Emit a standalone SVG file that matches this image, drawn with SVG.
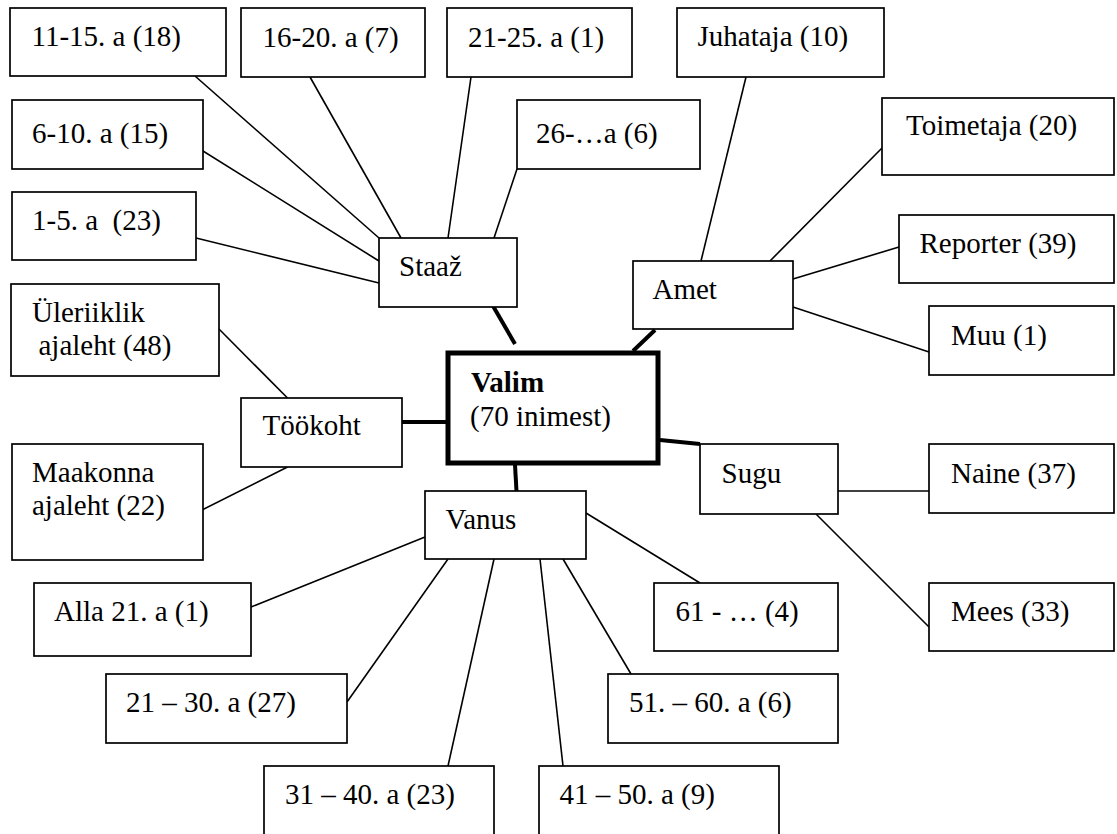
<svg xmlns="http://www.w3.org/2000/svg" width="1117" height="834" viewBox="0 0 1117 834">
<style>
.box{fill:#fff;stroke:#000;stroke-width:1.7}
.c{stroke:#000;stroke-width:1.6;fill:none}
.ck{stroke:#000;stroke-width:4;fill:none}
.t{font-family:"Liberation Serif","Times New Roman",serif;font-size:29px;fill:#000;white-space:pre}
</style>
<rect width="1117" height="834" fill="#fff"/>
<g id="connectors">
<line class="c" x1="195" y1="76" x2="379" y2="238"/>
<line class="c" x1="195" y1="146" x2="379" y2="261"/>
<line class="c" x1="196" y1="238" x2="379" y2="283"/>
<line class="c" x1="310" y1="77" x2="401" y2="238"/>
<line class="c" x1="471" y1="77" x2="448" y2="238"/>
<line class="c" x1="517" y1="169" x2="494" y2="238"/>
<line class="c" x1="746" y1="77" x2="701" y2="261"/>
<line class="c" x1="882" y1="148" x2="770" y2="261"/>
<line class="c" x1="899" y1="247" x2="793" y2="279"/>
<line class="c" x1="793" y1="307" x2="929" y2="352"/>
<line class="c" x1="219" y1="329" x2="287.5" y2="398"/>
<line class="c" x1="196" y1="513" x2="287.5" y2="467"/>
<line class="c" x1="838" y1="491" x2="929" y2="491"/>
<line class="c" x1="816" y1="514" x2="929" y2="627"/>
<line class="c" x1="425" y1="537" x2="251" y2="607"/>
<line class="c" x1="448" y1="559" x2="347" y2="702"/>
<line class="c" x1="494" y1="559" x2="448" y2="766"/>
<line class="c" x1="540" y1="559" x2="563" y2="766"/>
<line class="c" x1="563" y1="559" x2="631" y2="674"/>
<line class="c" x1="586" y1="513" x2="700" y2="583"/>
<line class="ck" x1="493" y1="306" x2="515" y2="344"/>
<line class="ck" x1="655" y1="330" x2="633" y2="351"/>
<line class="ck" x1="402" y1="422" x2="446" y2="422"/>
<line class="ck" x1="515" y1="465" x2="516.5" y2="491"/>
<line class="ck" x1="660" y1="440" x2="700" y2="444"/>
</g>
<g id="valim">
<rect x="448" y="353" width="210" height="110" fill="#fff" stroke="#000" stroke-width="5"/>
<text class="t" x="471" y="392" font-weight="bold">Valim</text>
<text class="t" x="470" y="426">(70 inimest)</text>
</g>
<g id="staaz"><rect class="box" x="379" y="238" width="138" height="69"/><text class="t" x="399" y="276">Staaž</text></g>
<g id="s11-15"><rect class="box" x="10" y="8" width="216" height="68"/><text class="t" x="31.5" y="46">11-15. a (18)</text></g>
<g id="s16-20"><rect class="box" x="241" y="8" width="184" height="69"/><text class="t" x="262.5" y="46.5">16-20. a (7)</text></g>
<g id="s21-25"><rect class="box" x="447" y="8" width="185" height="69"/><text class="t" x="468" y="46.5">21-25. a (1)</text></g>
<g id="s6-10"><rect class="box" x="12" y="100" width="191" height="69"/><text class="t" x="32" y="143">6-10. a (15)</text></g>
<g id="s26"><rect class="box" x="517" y="100" width="183" height="69"/><text class="t" x="536" y="143">26-…a (6)</text></g>
<g id="s1-5"><rect class="box" x="12" y="192" width="184" height="68"/><text class="t" x="32" y="230">1-5. a  (23)</text></g>
<g id="amet"><rect class="box" x="633" y="261" width="160" height="68"/><text class="t" x="652.5" y="298.5">Amet</text></g>
<g id="juhataja"><rect class="box" x="677" y="8" width="207" height="69"/><text class="t" x="697.5" y="45.5">Juhataja (10)</text></g>
<g id="toimetaja"><rect class="box" x="882" y="98" width="232" height="77"/><text class="t" x="906" y="135">Toimetaja (20)</text></g>
<g id="reporter"><rect class="box" x="899" y="215" width="215" height="68"/><text class="t" x="919.5" y="253">Reporter (39)</text></g>
<g id="muu"><rect class="box" x="929" y="306" width="185" height="69"/><text class="t" x="951" y="345">Muu (1)</text></g>
<g id="tookoht"><rect class="box" x="241" y="398" width="161" height="69"/><text class="t" x="262.5" y="435">Töökoht</text></g>
<g id="uleriiklik"><rect class="box" x="11" y="284" width="208" height="92"/><text class="t" x="32" y="321.5">Üleriiklik</text><text class="t" x="38.5" y="355">ajaleht (48)</text></g>
<g id="maakonna"><rect class="box" x="12" y="444" width="191" height="116"/><text class="t" x="32" y="481.5">Maakonna</text><text class="t" x="32" y="515">ajaleht (22)</text></g>
<g id="sugu"><rect class="box" x="700" y="444" width="138" height="70" stroke-width="2.6"/><text class="t" x="721.5" y="482.5">Sugu</text></g>
<g id="naine"><rect class="box" x="929" y="444" width="185" height="69"/><text class="t" x="951" y="482.5">Naine (37)</text></g>
<g id="mees"><rect class="box" x="929" y="583" width="185" height="68"/><text class="t" x="951" y="620.5">Mees (33)</text></g>
<g id="vanus"><rect class="box" x="425" y="491" width="161" height="68"/><text class="t" x="445.5" y="529">Vanus</text></g>
<g id="v61"><rect class="box" x="654" y="583" width="184" height="68"/><text class="t" x="675.5" y="620.5">61 - … (4)</text></g>
<g id="v51-60"><rect class="box" x="608" y="674" width="230" height="69"/><text class="t" x="629" y="711.5">51. – 60. a (6)</text></g>
<g id="v41-50"><rect class="box" x="539" y="766" width="240" height="90"/><text class="t" x="559.5" y="803.5">41 – 50. a (9)</text></g>
<g id="v31-40"><rect class="box" x="264" y="766" width="230" height="90"/><text class="t" x="285" y="803.5">31 – 40. a (23)</text></g>
<g id="v21-30"><rect class="box" x="106" y="674" width="241" height="69"/><text class="t" x="126" y="711.5">21 – 30. a (27)</text></g>
<g id="alla21"><rect class="box" x="34" y="583" width="217" height="73"/><text class="t" x="54" y="620.5">Alla 21. a (1)</text></g>
</svg>
